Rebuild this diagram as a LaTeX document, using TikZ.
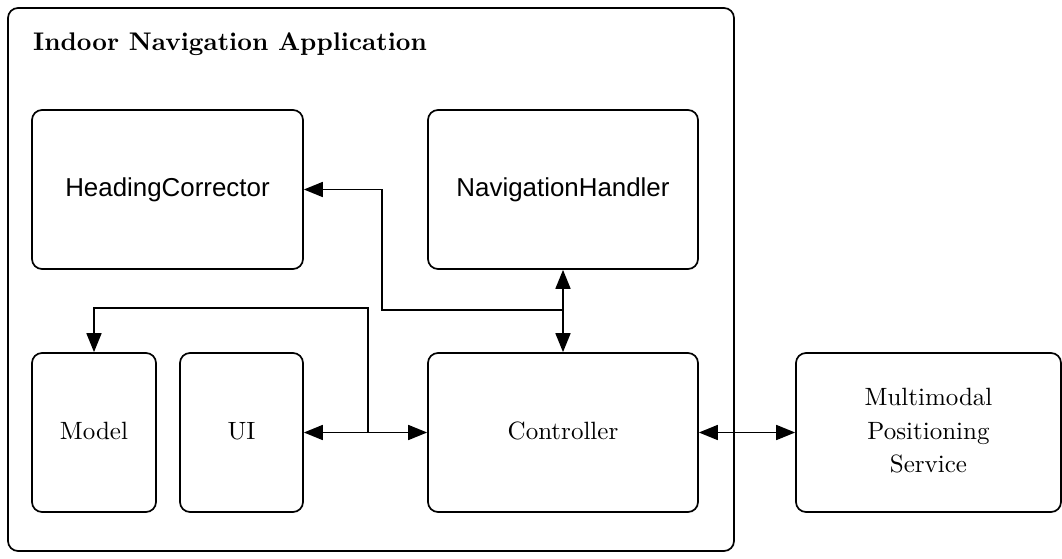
\documentclass[tikz,border=0pt]{standalone}
\usepackage{fontspec}
\usepackage{graphicx}
\newfontfamily\hfont{Liberation Sans}
\usetikzlibrary{arrows.meta}
\newcommand\sctext[2][2.5]{\scalebox{#1}{\begin{tabular}{@{}c@{}}#2\end{tabular}}}
\tikzset{
  box/.style={draw, line width=1.7pt, rounded corners=10pt, inner sep=0pt},
  conn/.style={line width=1.7pt, {Triangle[length=19pt,width=15pt]}-{Triangle[length=19pt,width=15pt]}},
  oneway/.style={line width=1.7pt, -{Triangle[length=19pt,width=15pt]}},
  rmtext/.style={font=\fontsize{10}{13.4}\selectfont, align=center},
  sftext/.style={font=\hfont\fontsize{25.9}{30}\selectfont, align=center}
}
\begin{document}
\begin{tikzpicture}[x=1pt,y=-1pt]
\useasboundingbox (0,0) rectangle (1062,559);
\node[box, minimum width=726pt, minimum height=543pt] (app) at (371,279.5) {};
\node[anchor=base west, font=\bfseries\fontsize{10}{12}\selectfont, inner sep=0pt] (title) at (33,51) {\scalebox{2.55}{Indoor Navigation Application}};
\node[box, sftext, minimum width=271pt, minimum height=159pt] (hc) at (167.5,189.5) {HeadingCorrector};
\node[box, sftext, minimum width=270pt, minimum height=159pt] (nh) at (563,189.5) {NavigationHandler};
\node[box, rmtext, minimum width=124pt, minimum height=159pt] (model) at (94,432.5) {\sctext{Model}};
\node[box, rmtext, minimum width=123pt, minimum height=159pt] (ui) at (241.5,432.5) {\sctext{UI}};
\node[box, rmtext, minimum width=270pt, minimum height=159pt] (ctrl) at (563,432.5) {\sctext{Controller}};
\node[box, rmtext, minimum width=265pt, minimum height=159pt] (mps) at (928.5,432.5) {\sctext{Multimodal\\Positioning\\Service}};
\draw[conn] (ui) -- (ctrl);
\draw[conn] (ctrl) -- (mps);
\draw[conn] (ctrl.north) -- (nh.south);
\coordinate (j1) at (368,432.5);
\coordinate (m1) at (368,308);
\draw[oneway] (j1) -- (m1) -| (model.north);
\coordinate (j2) at (563,310);
\coordinate (k) at (382,310);
\draw[oneway] (j2) -- (k) |- (hc.east);
\end{tikzpicture}
\end{document}
